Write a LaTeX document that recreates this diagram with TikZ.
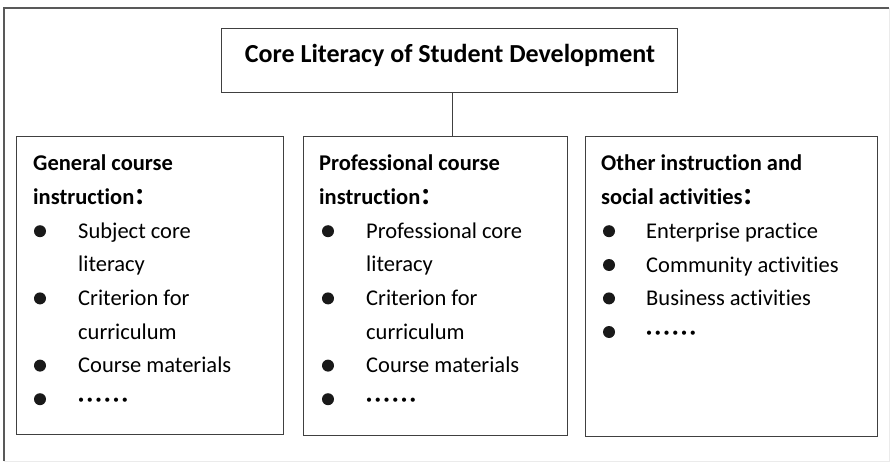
\documentclass[tikz,border=0pt]{standalone}
\usepackage{fontspec}
\setmainfont{Carlito}[Ligatures=NoCommon]
\newfontfamily\cjk{Noto Sans CJK SC}
\usetikzlibrary{positioning}

\tikzset{
  box/.style={draw=black!75, line width=1pt, inner sep=0pt},
  title/.style={anchor=base, inner sep=0pt, font=\fontsize{26}{30}\selectfont\bfseries},
  head/.style={anchor=base west, inner sep=0pt, font=\fontsize{22.5}{26}\selectfont\bfseries},
  item/.style={anchor=base west, inner sep=0pt, font=\fontsize{22.5}{26}\selectfont},
}
\newcommand{\bul}[2]{\fill[black!90] (#1,#2) circle[radius=6pt];}
\newcommand{\etcdots}{{\addfontfeature{LetterSpace=12}\textbf{······}}}

\begin{document}
\begin{tikzpicture}[x=1pt,y=-1pt]
     \useasboundingbox (0,0) rectangle (890,462);
     % outer frame
     \draw[black!8, line width=1pt] (889,8) -- (889,461) -- (4,461);
     \draw[black!65, line width=1.5pt] (4,461) -- (4,8) -- (889,8);

     % boxes
     \node[box, minimum width=456pt, minimum height=64pt] (core)  at (449,61)  {};
     \node[box, minimum width=267pt, minimum height=297pt] (gen)  at (149.5,285.5) {};
     \node[box, minimum width=264pt, minimum height=298pt] (prof) at (435,286) {};
     \node[box, minimum width=292pt, minimum height=299pt] (other) at (731,286.5) {};
     \draw[black!75, line width=1pt] ([xshift=3pt]core.south) -- ([xshift=3pt]core.south |- prof.north);

     \node[title] (coret) at (450,63) {Core Literacy of Student Development};

     % general course
     \node[head] (g1) at (33,171)    {General course};
     \node[head] (g2) at (33,204.6)  {instruction\cjk{：}};
     \bul{40}{231.2}
     \node[item] (g3) at (78,238.2)  {Subject core};
     \node[item] (g4) at (78,271.8)  {literacy};
     \bul{40}{298.4}
     \node[item] (g5) at (78,305.4)  {Criterion for};
     \node[item] (g6) at (78,339)    {curriculum};
     \bul{40}{365.6}
     \node[item] (g7) at (78,372.6)  {Course materials};
     \bul{40}{399.2}
     \node[item] (g8) at (78,406.2)  {\etcdots};

     % professional course
     \node[head] (p1) at (319,171)   {Professional course};
     \node[head] (p2) at (319,204.6) {instruction\cjk{：}};
     \bul{328}{231.2}
     \node[item] (p3) at (366,238.2) {Professional core};
     \node[item] (p4) at (366,271.8) {literacy};
     \bul{328}{298.4}
     \node[item] (p5) at (366,305.4) {Criterion for};
     \node[item] (p6) at (366,339)   {curriculum};
     \bul{328}{365.6}
     \node[item] (p7) at (366,372.6) {Course materials};
     \bul{328}{399.2}
     \node[item] (p8) at (366,406.2) {\etcdots};

     % other activities
     \node[head] (o1) at (601,171)   {Other instruction and};
     \node[head] (o2) at (601,204.6) {social activities\cjk{：}};
     \bul{609}{231.2}
     \node[item] (o3) at (646,238.2) {Enterprise practice};
     \bul{609}{265}
     \node[item] (o4) at (646,272)   {Community activities};
     \bul{609}{298.4}
     \node[item] (o5) at (646,305.4) {Business activities};
     \bul{609}{332}
     \node[item] (o6) at (646,339)   {\etcdots};
\end{tikzpicture}
\end{document}
